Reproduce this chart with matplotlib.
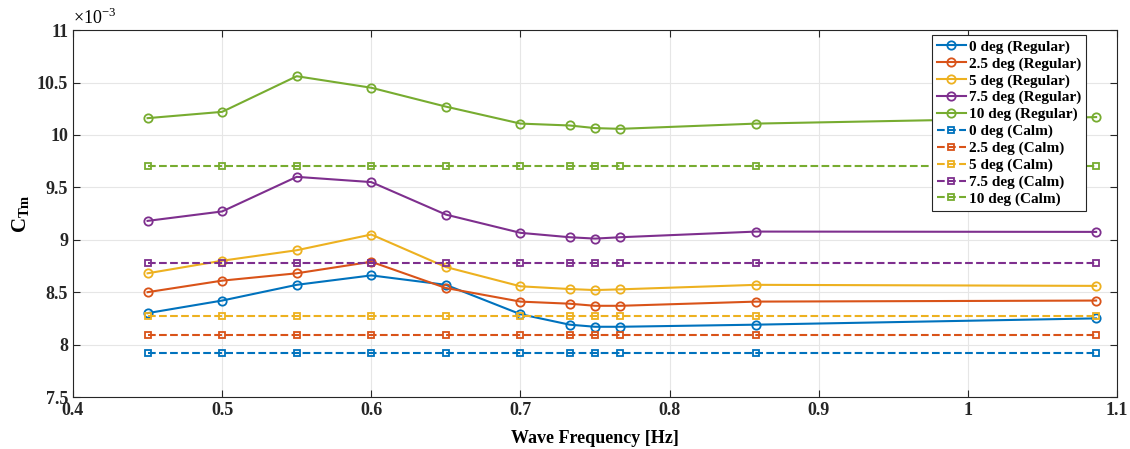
import numpy as np
import matplotlib.pyplot as plt

plt.rcParams['font.family'] = ['Liberation Serif', 'DejaVu Serif']
plt.rcParams['mathtext.fontset'] = 'custom'
plt.rcParams['mathtext.rm'] = 'Liberation Serif'
plt.rcParams['mathtext.bf'] = 'Liberation Serif:bold'

# frecuencias de ola [Hz]
freq = [0.45, 0.5, 0.55, 0.6, 0.65, 0.7, 0.733, 0.75, 0.767, 0.858, 1.086]

# C_Tm en ola regular (x 1e-3)
reg_0 = [8.30, 8.42, 8.57, 8.66, 8.57, 8.29, 8.19, 8.17, 8.17, 8.19, 8.25]
reg_25 = [8.50, 8.61, 8.68, 8.79, 8.54, 8.41, 8.39, 8.37, 8.37, 8.41, 8.42]
reg_5 = [8.68, 8.80, 8.90, 9.05, 8.74, 8.556, 8.53, 8.52, 8.527, 8.57, 8.56]
reg_75 = [9.18, 9.27, 9.60, 9.55, 9.24, 9.066, 9.024, 9.011, 9.024, 9.078, 9.075]
reg_10 = [10.16, 10.22, 10.56, 10.45, 10.27, 10.108, 10.09, 10.065, 10.058, 10.108, 10.17]

# C_Tm en aguas tranquilas (x 1e-3)
calm = [7.92, 8.095, 8.268, 8.777, 9.70]

labels_reg = ['0 deg (Regular)', '2.5 deg (Regular)', '5 deg (Regular)',
              '7.5 deg (Regular)', '10 deg (Regular)']
labels_calm = ['0 deg (Calm)', '2.5 deg (Calm)', '5 deg (Calm)',
               '7.5 deg (Calm)', '10 deg (Calm)']
colores = ['#0072BD', '#D95319', '#EDB120', '#7E2F8E', '#77AC30']

fig, ax = plt.subplots(figsize=(11.3, 4.49), dpi=100)
fig.subplots_adjust(left=0.0646, right=0.9885, top=0.933, bottom=0.1158)

x = np.array(freq)
for serie, lab, c in zip([reg_0, reg_25, reg_5, reg_75, reg_10], labels_reg, colores):
    ax.plot(x, np.array(serie) * 1e-3, '-o', color=c, lw=1.5, ms=6,
            mfc='none', mew=1.3, label=lab)
for val, lab, c in zip(calm, labels_calm, colores):
    ax.plot(x, np.full(len(x), val * 1e-3), '--s', color=c, lw=1.5, ms=5,
            mfc='none', mew=1.3, label=lab)

ax.set_xlim(0.4, 1.1)
ax.set_ylim(7.5e-3, 11e-3)
ax.set_xticks(np.arange(0.4, 1.101, 0.1))
ax.set_xticklabels(['0.4', '0.5', '0.6', '0.7', '0.8', '0.9', '1', '1.1'])
ax.set_yticks(np.arange(7.5e-3, 11.01e-3, 0.5e-3))
ax.set_yticklabels(['7.5', '8', '8.5', '9', '9.5', '10', '10.5', '11'])
ax.text(0.0, 1.005, r'$\times10^{-3}$', transform=ax.transAxes,
        fontsize=13, ha='left', va='bottom')

ax.grid(True, color='#e6e6e6', lw=0.8)
ax.tick_params(direction='in', top=True, right=True, length=5,
               labelsize=13, colors='#262626', width=0.8)
for lbl in ax.get_xticklabels() + ax.get_yticklabels():
    lbl.set_fontweight('bold')
for s in ax.spines.values():
    s.set_color('#262626')
    s.set_linewidth(0.8)

ax.set_xlabel('Wave Frequency [Hz]', fontsize=13, fontweight='bold', labelpad=8)
ax.set_ylabel(r'$\mathbf{C_{Tm}}$', fontsize=15, labelpad=4)

leg = ax.legend(loc='upper right', bbox_to_anchor=(0.970, 0.986),
                borderaxespad=0, prop={'weight': 'bold', 'size': 11},
                handlelength=1.9, handletextpad=0.2, borderpad=0.3,
                labelspacing=0.2, fancybox=False, framealpha=1,
                edgecolor='#262626')
leg.get_frame().set_linewidth(0.8)

fig.savefig('out.png', dpi=100, facecolor='white')
